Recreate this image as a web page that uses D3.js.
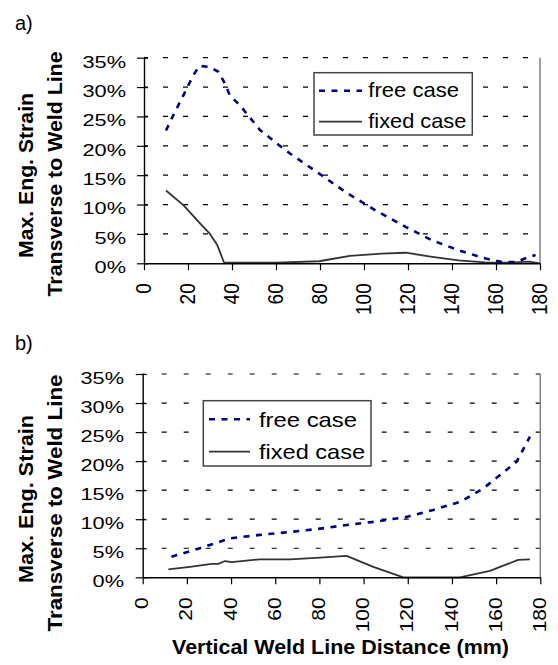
<!DOCTYPE html>
<html lang="en">
<head>
<meta charset="utf-8">
<title>Max. Eng. Strain vs Weld Line Distance</title>
<script src="https://cdn.jsdelivr.net/npm/d3@7"></script>
<style>
  body { margin: 0; background: #fff; }
  svg text { font-family: "Liberation Sans", Arial, sans-serif; fill: #000; }
</style>
</head>
<body>
<script>
// data (x in mm, y in % strain)
var xTicks = [0, 20, 40, 60, 80, 100, 120, 140, 160, 180];
var yTicks = [0, 0.05, 0.10, 0.15, 0.20, 0.25, 0.30, 0.35];
var seriesNames = ["free case", "fixed case"];

// panel a)
var freeA_x = [10, 13.3, 17.9, 22.4, 25.2, 30, 33.8, 36.8, 39, 43.6, 52.7, 61.4, 66.7, 79.5, 91.7, 105.3, 118.9, 131, 143.2, 155.3, 163, 169, 175, 178];
var freeA_y = [22.6, 25.2, 28.6, 32.0, 33.6, 33.4, 32.6, 30.6, 28.6, 26.9, 22.7, 20.1, 18.6, 15.3, 12.1, 9.0, 6.2, 3.9, 2.2, 0.8, 0.2, 0.2, 1.1, 1.4];
var fixedA_x = [10, 17.9, 26.2, 30, 33.3, 36.4, 40, 60, 79.5, 93.6, 108, 119, 131, 143, 155, 164, 175, 180];
var fixedA_y = [12.4, 9.9, 6.5, 5.0, 3.1, 0.1, 0.1, 0.1, 0.35, 1.25, 1.65, 1.8, 1.1, 0.5, 0.15, 0.1, 0.3, 0.0];

// panel b)
var freeB_x = [13, 25.9, 39.5, 53, 66.7, 78.8, 92.3, 105.9, 119.5, 131.6, 143.7, 154.2, 161.8, 169.3, 175.3];
var freeB_y = [3.55, 5.0, 6.7, 7.3, 7.8, 8.3, 9.0, 9.6, 10.4, 11.6, 13.0, 15.3, 17.6, 19.9, 24.2];
var fixedB_x = [11.6, 21.4, 31.2, 34.2, 37.3, 40.3, 53.1, 66.7, 80.3, 92.3, 104.4, 118, 143.6, 157.2, 170, 175.3];
var fixedB_y = [1.37, 1.8, 2.3, 2.3, 2.8, 2.6, 3.1, 3.1, 3.4, 3.7, 1.8, 0, 0, 1.1, 3.0, 3.1];

var W = 558, H = 665;
var svg = d3.select("body").append("svg")
  .attr("width", W).attr("height", H);

// layout of each panel (pixels)
var panels = [
  { tag: "a)", tagY: 29.5, left: 144, right: 540, top: 57.7, bottom: 263.3,
    ylabRight: 126, xFont: 19, xStretch: 1.2, grid: "5,15", gridOff: 1,
    t1: { x: 33.3, cy: 175.5, len: 165 }, t2: { x: 61.7, cy: 174, len: 245 },
    legend: { x0: 314, x1: 472.3, y0: 72.7, y1: 135, lx0: 319, lx1: 362, tx: 368.3,
              ly: [90.7, 121.7], ty: [97.3, 127.7], tw: [90.7, 98] },
    free: [freeA_x, freeA_y], fixed: [fixedA_x, fixedA_y] },
  { tag: "b)", tagY: 350, left: 142.7, right: 540.3, top: 374, bottom: 577.3,
    ylabRight: 124, xFont: 21, xStretch: 0.83, grid: "5,17", gridOff: 3,
    t1: { x: 33.3, cy: 499, len: 168 }, t2: { x: 61.7, cy: 503, len: 257 },
    legend: { x0: 203.3, x1: 371, y0: 400.7, y1: 466, lx0: 209, lx1: 250, tx: 259,
              ly: [419.3, 451.7], ty: [426.7, 459.3], tw: [98, 106] },
    free: [freeB_x, freeB_y], fixed: [fixedB_x, fixedB_y] }
];

panels.forEach(function(p) {
  var x = d3.scaleLinear().domain([0, 180]).range([p.left, p.right]);
  var y = d3.scaleLinear().domain([0, 0.35]).range([p.bottom, p.top]);

  // panel tag
  svg.append("text").attr("x", 15).attr("y", p.tagY)
    .attr("font-size", "20px").text(p.tag);

  // dashed gridlines (top one doubles as border)
  svg.append("g").selectAll("line")
    .data(yTicks.filter(function(d) { return d > 0; }))
    .enter().append("line")
    .attr("x1", p.left).attr("x2", p.right)
    .attr("y1", function(d) { return y(d); })
    .attr("y2", function(d) { return y(d); })
    .attr("stroke", "#000").attr("stroke-width", 1.2)
    .attr("stroke-dasharray", p.grid).attr("stroke-dashoffset", p.gridOff);

  // right border
  svg.append("line")
    .attr("x1", p.right).attr("x2", p.right)
    .attr("y1", p.top).attr("y2", p.bottom)
    .attr("stroke", "#808080").attr("stroke-width", 1.5);

  // series
  var line = d3.line()
    .x(function(d) { return x(d[0]); })
    .y(function(d) { return y(d[1] / 100); });

  var fixedPts = d3.zip(p.fixed[0], p.fixed[1]);
  var freePts = d3.zip(p.free[0], p.free[1]);

  svg.append("path").datum(fixedPts)
    .attr("d", line).attr("fill", "none")
    .attr("stroke", "#333").attr("stroke-width", 1.8)
    .attr("stroke-linejoin", "round");

  svg.append("path").datum(freePts)
    .attr("d", line).attr("fill", "none")
    .attr("stroke", "#000080").attr("stroke-width", 2.6)
    .attr("stroke-dasharray", "6,6.5");

  // y axis
  var yAxis = d3.axisLeft(y).tickValues(yTicks)
    .tickFormat(d3.format(".0%")).tickSizeOuter(0);
  var gy = svg.append("g")
    .attr("transform", "translate(" + p.left + ",0)")
    .call(yAxis);
  gy.select(".domain").attr("stroke", "#000").attr("stroke-width", 1.4);
  gy.selectAll(".tick line").attr("x1", 4).attr("x2", -7)
    .attr("stroke", "#000").attr("stroke-width", 1.2);
  gy.selectAll(".tick text")
    .attr("x", null).attr("dy", null)
    .attr("text-anchor", "end")
    .attr("font-family", null)
    .attr("font-size", "17px")
    .attr("transform", "translate(" + (p.ylabRight - p.left) + ",9.3) scale(1.28,1)");

  // x axis
  var xAxis = d3.axisBottom(x).tickValues(xTicks)
    .tickSizeInner(7).tickSizeOuter(0);
  var gx = svg.append("g")
    .attr("transform", "translate(0," + p.bottom + ")")
    .call(xAxis);
  gx.select(".domain").attr("stroke", "#000").attr("stroke-width", 1.4);
  gx.selectAll(".tick line").attr("stroke", "#000").attr("stroke-width", 1.2);
  gx.selectAll(".tick text")
    .attr("y", null).attr("dy", "0.35em")
    .attr("text-anchor", "end")
    .attr("font-family", null)
    .attr("font-size", p.xFont + "px")
    .attr("transform", "translate(-1,20) scale(" + p.xStretch + ",1) rotate(-90)");

  // y titles, two lines
  svg.append("text")
    .attr("transform", "translate(" + p.t1.x + "," + p.t1.cy + ") rotate(-90)")
    .attr("text-anchor", "middle").attr("font-weight", "bold")
    .attr("font-size", "21px")
    .attr("textLength", p.t1.len).attr("lengthAdjust", "spacingAndGlyphs")
    .text("Max. Eng. Strain");
  svg.append("text")
    .attr("transform", "translate(" + p.t2.x + "," + p.t2.cy + ") rotate(-90)")
    .attr("text-anchor", "middle").attr("font-weight", "bold")
    .attr("font-size", "21px")
    .attr("textLength", p.t2.len).attr("lengthAdjust", "spacingAndGlyphs")
    .text("Transverse to Weld Line");

  // legend
  var L = p.legend;
  svg.append("rect")
    .attr("x", L.x0).attr("y", L.y0)
    .attr("width", L.x1 - L.x0).attr("height", L.y1 - L.y0)
    .attr("fill", "#fff").attr("stroke", "#444").attr("stroke-width", 1.5);
  svg.append("line")
    .attr("x1", L.lx0).attr("x2", L.lx1).attr("y1", L.ly[0]).attr("y2", L.ly[0])
    .attr("stroke", "#000080").attr("stroke-width", 2.6)
    .attr("stroke-dasharray", "6,6.5");
  svg.append("line")
    .attr("x1", L.lx0).attr("x2", L.lx1).attr("y1", L.ly[1]).attr("y2", L.ly[1])
    .attr("stroke", "#333").attr("stroke-width", 1.8);
  seriesNames.forEach(function(name, i) {
    svg.append("text")
      .attr("x", L.tx).attr("y", L.ty[i])
      .attr("font-size", "21px")
      .attr("textLength", L.tw[i]).attr("lengthAdjust", "spacingAndGlyphs")
      .text(name);
  });
});

// x title
svg.append("text")
  .attr("x", 340.5).attr("y", 654)
  .attr("text-anchor", "middle").attr("font-weight", "bold")
  .attr("font-size", "21px")
  .attr("textLength", 337).attr("lengthAdjust", "spacingAndGlyphs")
  .text("Vertical Weld Line Distance (mm)");
</script>
</body>
</html>
